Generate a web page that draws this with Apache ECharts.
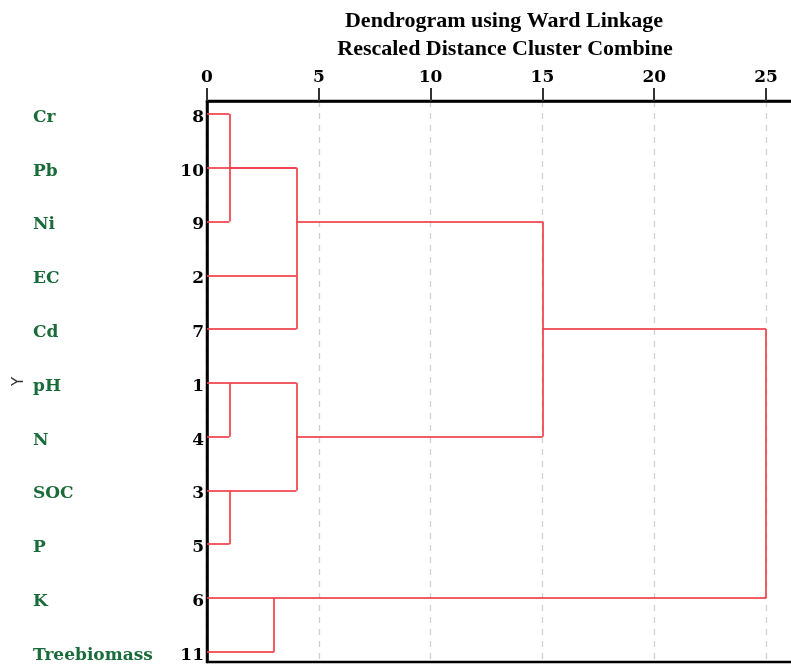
<!DOCTYPE html>
<html><head><meta charset="utf-8">
<script src="https://cdn.jsdelivr.net/npm/echarts@6/dist/echarts.min.js"></script>
<style>html,body{margin:0;padding:0;background:#fff}#c{width:791px;height:671px}</style>
</head><body><div id="c"></div>
<script>
// Variables in dendrogram order (top to bottom) and SPSS case numbers
const varNames = ['Cr','Pb','Ni','EC','Cd','pH','N','SOC','P','K','Treebiomass'];
const caseNums = ['8','10','9','2','7','1','4','3','5','6','11'];
// Merges: rescaled distance, inputs [row, start distance], drawn as in SPSS output
const mergeDist   = [1, 4, 1, 1, 4, 15, 3, 25];
const mergeInputs = [
  [[0,0],[2,0]],
  [[1,1],[1,0],[3,0],[4,0]],
  [[5,0],[6,0]],
  [[7,0],[8,0]],
  [[5,1],[7,1]],
  [[2,4],[6,4]],
  [[9,0],[10,0]],
  [[4,15],[9,3]]
];
const xTicks = [0,5,10,15,20,25];

const segs = [];
mergeDist.forEach((d,i)=>{
  const ins = mergeInputs[i];
  let lo = Infinity, hi = -Infinity;
  ins.forEach(([r,from])=>{
    segs.push({coords:[[from,r],[d,r]]});
    lo = Math.min(lo,r); hi = Math.max(hi,r);
  });
  segs.push({coords:[[d,lo],[d,hi]]});
});

const serif = 'DejaVu Serif';
const chart = echarts.init(document.getElementById('c'));
chart.setOption({
  animation:false,
  title:[
    {text:'Dendrogram using Ward Linkage', left:499, top:5, textAlign:'center',
     textStyle:{fontFamily:'Liberation Serif', fontWeight:'bold', fontSize:22, color:'#000'}},
    {text:'Rescaled Distance Cluster Combine', left:500, top:33, textAlign:'center',
     textStyle:{fontFamily:'Liberation Serif', fontWeight:'bold', fontSize:22, color:'#000'}}
  ],
  grid:{left:207, top:101, right:-3, bottom:9, show:true, borderColor:'#000', borderWidth:2.5, outerBoundsMode:'none', containLabel:false},
  xAxis:{type:'value', position:'top', min:0, max:26.25, interval:5,
    axisLine:{show:true, onZero:false, lineStyle:{color:'#000', width:2.5}},
    axisTick:{show:true, length:13, lineStyle:{color:'#333', width:2}, customValues:xTicks},
    axisLabel:{margin:15, fontFamily:serif, fontWeight:'bold', fontSize:17, color:'#000', customValues:xTicks},
    splitLine:{show:true, lineStyle:{color:'#d0d0d0', type:[6,6], width:1.3}}
  },
  yAxis:[
    {type:'value', inverse:true, min:-0.24, max:10.19, position:'left',
     name:'Y', nameLocation:'middle', nameGap:180, nameRotate:90,
     nameTextStyle:{fontFamily:'DejaVu Sans', fontSize:15, color:'#333'},
     axisLine:{show:true, onZero:false, lineStyle:{color:'#000', width:2.5}},
     axisTick:{show:false},
     splitLine:{show:false},
     axisLabel:{margin:3, customValues:caseNums.map((_,i)=>i),
       formatter:v=>'{n|'+caseNums[Math.round(v)]+'}',
       rich:{n:{padding:[7,0,0,0], fontFamily:serif, fontWeight:'bold', fontSize:17, color:'#000'}}}
    },
    {type:'value', inverse:true, min:-0.24, max:10.19, position:'left',
     axisLine:{show:false}, axisTick:{show:false}, splitLine:{show:false},
     axisLabel:{margin:174, align:'left', customValues:varNames.map((_,i)=>i),
       formatter:v=>'{g|'+varNames[Math.round(v)]+'}',
       rich:{g:{padding:[7,0,0,0], fontFamily:serif, fontWeight:'bold', fontSize:17, color:'#1a6b3a'}}}
    }
  ],
  series:[{
    type:'lines', coordinateSystem:'cartesian2d', xAxisIndex:0, yAxisIndex:0,
    polyline:false, silent:true,
    lineStyle:{color:'#f0404a', width:2, opacity:0.85},
    data:segs
  }]
});
</script></body></html>
